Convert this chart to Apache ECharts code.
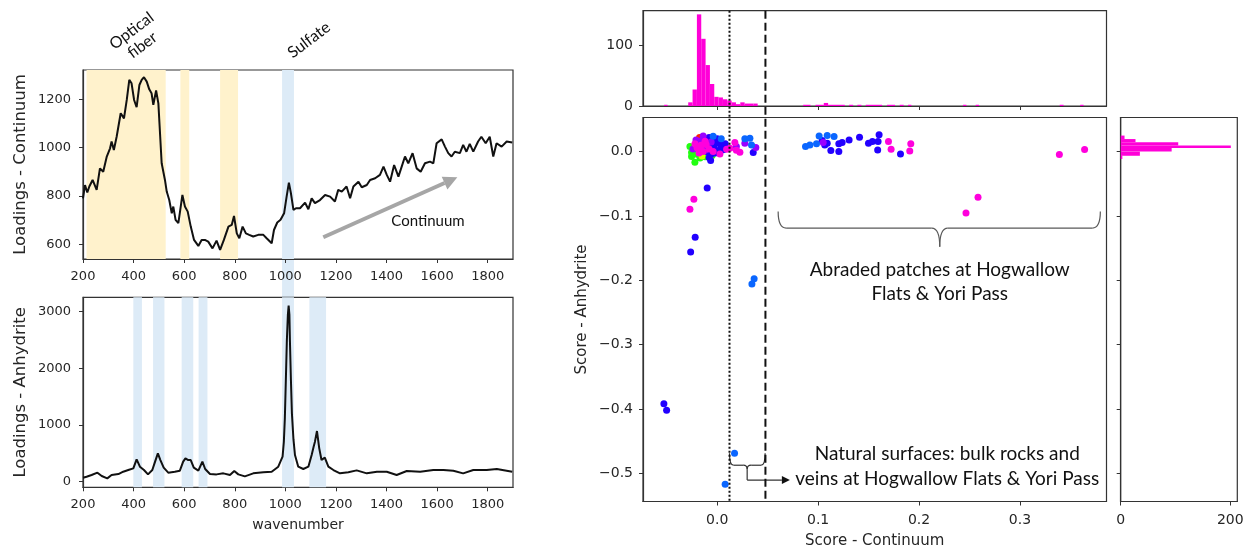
<!DOCTYPE html>
<html><head><meta charset="utf-8">
<script src="https://cdn.jsdelivr.net/npm/echarts@6/dist/echarts.min.js"></script>
<style>html,body{margin:0;padding:0;background:#fff}#c{width:1251px;height:548px}</style>
</head><body><div id="c"></div>
<script>
// ---------- DATA ----------
// Top-left: Loadings - Continuum
const wnC = [200,208,217,225,238,254,267,280,294,307,313,322,333,349,362,373,383,392,402,412,423,432,441,452,462,471,478,489,498,511,524,531,541,551,557,566,577,593,603,614,626,639,656,669,682,695,712,728,742,757,775,788,797,808,818,831,844,857,873,893,913,926,946,955,968,981,995,1005,1014,1022,1032,1042,1058,1078,1091,1104,1117,1137,1157,1177,1196,1209,1223,1242,1256,1269,1289,1302,1322,1335,1355,1374,1388,1401,1414,1430,1447,1460,1473,1486,1503,1519,1535,1552,1572,1585,1598,1618,1631,1644,1657,1670,1690,1703,1716,1729,1743,1762,1775,1792,1808,1822,1835,1855,1875,1897];
const loadC = [790,845,814,839,866,825,914,900,963,997,1025,990,1045,1142,1121,1197,1280,1266,1197,1167,1259,1280,1291,1273,1241,1225,1177,1236,1183,935,866,818,783,728,756,701,687,804,756,735,673,618,593,618,618,611,583,615,577,618,673,680,717,645,625,673,645,639,632,639,639,625,604,659,690,701,728,797,855,811,742,749,749,772,745,790,770,783,804,797,777,825,818,839,790,839,859,836,845,866,873,887,921,887,859,928,880,921,963,935,977,914,900,935,942,935,1018,1034,1004,977,963,983,977,1011,983,1015,983,1025,1045,1018,1045,963,1018,1004,1025,1021];
// Bottom-left: Loadings - Anhydrite
const wnA = [200,214,234,257,274,296,313,340,359,379,399,412,425,441,457,474,485,496,506,519,537,563,583,596,605,616,626,638,656,672,683,702,728,755,781,798,814,840,873,913,946,972,989,994,998,1002,1006,1010,1013,1016,1018,1022,1026,1032,1038,1051,1071,1091,1104,1112,1117,1125,1134,1143,1150,1156,1170,1190,1216,1249,1282,1322,1362,1401,1440,1480,1533,1585,1625,1664,1703,1743,1796,1836,1897];
const loadA = [70,88,118,159,100,59,118,135,176,206,235,394,265,206,129,206,353,500,382,247,159,176,194,353,412,382,382,247,194,353,224,135,129,147,118,188,129,94,147,165,176,265,441,700,1118,1800,2500,2950,3106,2950,2500,1800,1200,750,471,265,224,265,471,620,706,894,588,382,400,424,265,206,147,165,200,147,176,176,118,188,176,206,206,194,147,206,206,224,176];
// shaded bands (wavenumber ranges)
const bandsYellowTL = [[214,527],[585,620],[742,813]];
const bandsBlueTL = [[987,1034]];
const bandsBlueBL = [[399,433],[477,522],[590,636],[657,692],[987,1034],[1095,1161]];
const wnTicks = [200,400,600,800,1000,1200,1400,1600,1800];
const loadCTicks = [600,800,1000,1200];
const loadATicks = [0,1000,2000,3000];

// Scatter: Score - Continuum (x) vs Score - Anhydrite (y)
const ptsGreen = [[-0.0254,-0.0078],[-0.0221,-0.0165],[-0.0244,0.0062],[-0.027,0.0078],[-0.0254,-0.0016],[-0.02,-0.004],[-0.017,-0.01],[-0.012,-0.008],[-0.005,-0.006],[-0.022,0.002]];
const ptsYellow = [[-0.015,-0.007]];
const ptsRed = [[-0.0175,0.0218]];
const ptsBlue = [[0.104,0.0171],[0.1066,0.0104],[0.109,0.013],[0.1126,0.0016],[0.1205,0.012],[0.1205,0.0],[0.1238,0.014],[0.1307,0.018],[0.141,0.0224],[0.1499,0.013],[0.1538,0.0156],[0.1594,0.0156],[0.1604,0.026],[0.159,0.0026],[0.1816,-0.0036],[0.0357,-0.0016],[-0.0099,-0.0565],[-0.0218,-0.133],[-0.0263,-0.156],[-0.0528,-0.392],[-0.0501,-0.402],[-0.012,0.02],[-0.008,0.022],[-0.004,0.018],[-0.01,0.012],[-0.006,0.008],[-0.002,0.012],[0.002,0.015],[0.004,0.008],[-0.014,0.004],[-0.01,0.0],[-0.006,-0.004],[-0.0065,-0.014],[-0.002,-0.002],[0.002,0.002],[0.006,0.003],[-0.016,0.014],[0.0,0.02],[0.008,0.012],[-0.008,-0.009],[-0.003,0.005]];
const ptsViolet = [[-0.0139,0.0244],[-0.018,0.016],[-0.02,0.01],[-0.015,0.006],[-0.01,0.008],[-0.024,0.004],[0.0274,0.013],[0.019,0.0078],[0.0383,0.0062],[-0.006,0.015],[-0.012,0.002],[-0.021,0.018],[0.105,0.014]];
const ptsMagenta = [[-0.02,0.006],[-0.016,0.01],[-0.014,0.0],[-0.018,-0.002],[-0.008,0.004],[-0.004,0.0],[0.0027,-0.0036],[-0.012,0.016],[0.0093,0.0037],[0.0126,0.0053],[0.0175,0.014],[0.0225,-0.001],[0.019,0.002],[-0.022,0.012],[-0.0231,-0.074],[-0.027,-0.0896],[0.1697,0.0156],[0.1723,0.0037],[0.1908,0.0011],[0.1918,0.012],[0.2584,-0.0709],[0.2465,-0.0953],[0.339,-0.0047],[0.364,0.0031],[-0.017,0.004],[-0.011,0.011]];
const ptsLightBlue = [[0.0875,0.0078],[0.0918,0.0104],[0.0984,0.012],[0.101,0.0244],[0.109,0.0249],[0.1158,0.0233],[0.0274,0.0198],[0.0324,0.0208],[0.034,0.0104],[0.0366,-0.1975],[0.0344,-0.2058],[0.0172,-0.469],[0.0079,-0.517],[-0.004,0.024],[0.004,0.02]];
const scoreXTicks = [0,0.1,0.2,0.3];
const scoreYTicks = [0,-0.1,-0.2,-0.3,-0.4,-0.5];

// Histograms: [binStart, binEnd, count]
const histX = [[-0.0525,-0.0492,2],[-0.0287,-0.0244,6],[-0.0244,-0.0201,27],[-0.0201,-0.0158,150],[-0.0158,-0.0115,110],[-0.0115,-0.0072,67],[-0.0072,-0.0029,36],[-0.0029,0.0014,15],[0.0014,0.0057,14],[0.0057,0.0100,11],[0.0100,0.0143,9],[0.0143,0.0186,6],[0.0186,0.0229,3],[0.0229,0.0272,6],[0.0272,0.0315,4],[0.0315,0.0358,4],[0.0358,0.0401,4],[0.0852,0.0925,2],[0.0974,0.1056,2],[0.1056,0.1099,5],[0.1099,0.1264,2],[0.1307,0.1347,2],[0.1389,0.1429,2],[0.1472,0.1634,2],[0.1683,0.1762,2],[0.1808,0.1848,2],[0.1891,0.1924,2],[0.2436,0.2469,2],[0.2561,0.2594,2],[0.3393,0.3432,2],[0.3597,0.3630,2]];
const histY = [[0.0195,0.0249,7],[0.0146,0.0195,27],[0.0095,0.0146,105],[0.0055,0.0095,201],[0.0,0.0055,93],[-0.0065,0.0,35],[-0.0115,-0.0065,3]];
const histXTicks = [0,100];
const histYTicks = [0,200];
const refLines = [0.0122, 0.0478]; // dotted, dashed thresholds

// ---------- CHART ----------
const AX = {sx:[-0.0735,0.3857], sy:[-0.544,0.053]};
const chart = echarts.init(document.getElementById('c'));
const tickFont = 'DejaVu Sans';
const frameColor = '#333';
const plain = v => String(v);
function vAxis(o) {
  return Object.assign({
    type:'value', splitLine:{show:false},
    axisLine:{show:true, onZero:false, lineStyle:{color:frameColor, width:1.2}},
    axisTick:{show:true, length:4, lineStyle:{color:frameColor, width:1}, customValues:o.ticks},
    axisLabel:{show:o.labels!==false, customValues:o.ticks, fontSize:o.fs||13, fontFamily:tickFont, color:'#262626', margin:o.margin||7, formatter:o.fmt||plain},
    nameTextStyle:{fontFamily:tickFont, color:'#262626', fontSize:o.nfs||16.5},
    nameLocation:'middle'
  }, o.extra);
}
const fmt1 = v => (Math.abs(v)<1e-9 ? '0.0' : v.toFixed(1).replace('-', '\u2212'));
const gridStyle = {show:true, borderColor:frameColor, borderWidth:1.2, backgroundColor:'transparent', containLabel:false, outerBoundsMode:'none'};

function bandData(bands, color) {
  return bands.map(b => [{xAxis:b[0], itemStyle:{color:color}}, {xAxis:b[1]}]);
}
function scatterSeries(data, color) {
  return {type:'scatter', xAxisIndex:3, yAxisIndex:3, data:data, symbolSize:7, itemStyle:{color:color, opacity:1}, silent:true, animation:false};
}

chart.setOption({
  animation:false,
  grid:[
    Object.assign({left:83, top:70, width:430, height:189}, gridStyle),
    Object.assign({left:83, top:297.3, width:430, height:190}, gridStyle),
    Object.assign({left:643, top:10.7, width:463.5, height:95.3}, gridStyle),
    Object.assign({left:643, top:117.5, width:463.5, height:384}, gridStyle),
    Object.assign({left:1120.7, top:117.5, width:116.6, height:384}, gridStyle)
  ],
  xAxis:[
    vAxis({ticks:wnTicks, margin:11, extra:{gridIndex:0, min:200, max:1900}}),
    vAxis({ticks:wnTicks, margin:11, extra:{gridIndex:1, min:200, max:1900, name:'wavenumber', nameGap:31, nameTextStyle:{fontFamily:tickFont, color:'#262626', fontSize:14}}}),
    vAxis({ticks:scoreXTicks, labels:false, extra:{gridIndex:2, min:AX.sx[0], max:AX.sx[1]}}),
    vAxis({ticks:scoreXTicks, fs:14, margin:12, fmt:fmt1, extra:{gridIndex:3, min:AX.sx[0], max:AX.sx[1], name:'Score - Continuum', nameGap:32, nameTextStyle:{fontFamily:tickFont, color:'#262626', fontSize:15}}}),
    vAxis({ticks:histYTicks, fs:14, margin:12, extra:{gridIndex:4, min:0, max:212.8}})
  ],
  yAxis:[
    vAxis({ticks:loadCTicks, margin:12, extra:{gridIndex:0, min:539, max:1321, name:'Loadings - Continuum', nameGap:54}}),
    vAxis({ticks:loadATicks, margin:12, extra:{gridIndex:1, min:-99, max:3254, name:'Loadings - Anhydrite', nameGap:54}}),
    vAxis({ticks:histXTicks, fs:14, margin:10, extra:{gridIndex:2, min:0, max:156}}),
    vAxis({ticks:scoreYTicks, fs:14, margin:10, fmt:fmt1, extra:{gridIndex:3, min:AX.sy[0], max:AX.sy[1], name:'Score - Anhydrite', nameGap:53, nameTextStyle:{fontFamily:tickFont, color:'#262626', fontSize:15}}}),
    vAxis({ticks:scoreYTicks, labels:false, extra:{gridIndex:4, min:AX.sy[0], max:AX.sy[1]}})
  ],
  series:[
    {type:'line', xAxisIndex:0, yAxisIndex:0, data:wnC.map((w,i)=>[w, loadC[i]]), showSymbol:false, silent:true,
     lineStyle:{color:'#111', width:2}, z:3,
     markArea:{silent:true, data: bandData(bandsYellowTL,'#fff2cc').concat(bandData(bandsBlueTL,'#ddebf7'))}},
    {type:'line', xAxisIndex:1, yAxisIndex:1, data:wnA.map((w,i)=>[w, loadA[i]]), showSymbol:false, silent:true,
     lineStyle:{color:'#111', width:2}, z:3,
     markArea:{silent:true, data: bandData(bandsBlueBL,'#ddebf7')}},
    {type:'custom', xAxisIndex:2, yAxisIndex:2, data:histX, encode:{x:[0,1], y:2}, silent:true,
     renderItem:(params, api) => {
       const p0 = api.coord([api.value(0), 0]); const p1 = api.coord([api.value(1), api.value(2)]);
       return {type:'rect', shape:{x:p0[0], y:p1[1], width:p1[0]-p0[0], height:p0[1]-p1[1]}, style:{fill:'#ff00d8'}};
     }},
    {type:'custom', xAxisIndex:4, yAxisIndex:4, data:histY, encode:{x:2, y:[0,1]}, silent:true,
     renderItem:(params, api) => {
       const p0 = api.coord([0, api.value(0)]); const p1 = api.coord([api.value(2), api.value(1)]);
       return {type:'rect', shape:{x:p0[0], y:p1[1], width:p1[0]-p0[0], height:p0[1]-p1[1]}, style:{fill:'#ff00d8'}};
     }},
    scatterSeries(ptsGreen, '#22ff11'),
    scatterSeries(ptsYellow, '#d4ff00'),
    scatterSeries(ptsRed, '#ff2200'),
    scatterSeries(ptsBlue, '#2200ff'),
    scatterSeries(ptsViolet, '#9a00ff'),
    scatterSeries(ptsMagenta, '#ff00dd'),
    scatterSeries(ptsLightBlue, '#0a66ff')
  ]
});

// ---------- ANNOTATIONS ----------
function curve(a, b, c, stroke) { // quadratic: a -> b with control c
  return {type:'bezierCurve', z:20, shape:{x1:a[0], y1:a[1], x2:b[0], y2:b[1], cpx1:c[0], cpy1:c[1]}, style:{stroke:stroke, lineWidth:1.2, fill:null}};
}
function seg(a, b, stroke) {
  return {type:'line', z:20, shape:{x1:a[0], y1:a[1], x2:b[0], y2:b[1]}, style:{stroke:stroke, lineWidth:1.2}};
}
function annotate() {
  const P = (g, v) => chart.convertToPixel({gridIndex:g}, v);
  const els = [];
  // sulfate band continuing through the gap between the two left panels
  const gA = P(0, [987, 539]), gB = P(1, [1034, 3254]);
  els.push({type:'rect', z:-1, shape:{x:gA[0], y:gA[1], width:gB[0]-gA[0], height:gB[1]-gA[1]}, style:{fill:'#ddebf7'}});
  // threshold lines through histogram and scatter
  refLines.forEach((v, i) => {
    const t = P(2, [v, 156]), b = P(3, [v, AX.sy[0]]);
    els.push({type:'line', z:50, shape:{x1:t[0], y1:t[1], x2:t[0], y2:b[1]},
      style:{stroke:'#111', lineWidth:2, lineDash: i===0 ? [2,2] : [8,4]}});
  });
  // grey "Continuum" arrow
  const a1 = P(0, [1150, 629]), a2 = P(0, [1680, 877]);
  const dx = a2[0]-a1[0], dy = a2[1]-a1[1], L = Math.hypot(dx, dy), ux = dx/L, uy = dy/L;
  const bx = a2[0]-ux*14, by = a2[1]-uy*14;
  els.push({type:'line', z:20, shape:{x1:a1[0], y1:a1[1], x2:bx, y2:by}, style:{stroke:'#a6a6a6', lineWidth:4}});
  els.push({type:'polygon', z:20, shape:{points:[[a2[0],a2[1]],[bx-uy*7, by+ux*7],[bx+uy*7, by-ux*7]]}, style:{fill:'#a6a6a6'}});
  const ct = P(0, [1564, 694]);
  els.push({type:'text', z:20, x:ct[0], y:ct[1], style:{text:'Continuum', font:'15px Lato', fill:'#111', align:'center', verticalAlign:'middle'}});
  // rotated labels above top-left panel
  const rot = 37*Math.PI/180;
  els.push({type:'text', z:20, x:137, y:38, rotation:rot, style:{text:'Optical\nfiber', font:'16px Lato', fill:'#111', align:'center', verticalAlign:'middle', lineHeight:18}});
  els.push({type:'text', z:20, x:309, y:40, rotation:rot, style:{text:'Sulfate', font:'16px Lato', fill:'#111', align:'center', verticalAlign:'middle'}});
  // big brace
  const bl = P(3, [0.0604, -0.0933]), br = P(3, [0.3796, -0.0933]);
  const bm = P(3, [0.2205, -0.119]), bt = P(3, [0.2205, -0.148]);
  const r = 8, ym = bm[1], gc = '#595959';
  els.push(curve(bl, [bl[0]+r, ym], [bl[0], ym], gc));
  els.push(seg([bl[0]+r, ym], [bm[0]-r, ym], gc));
  els.push(curve([bm[0]-r, ym], [bm[0], bt[1]], [bm[0], ym], gc));
  els.push(curve([bm[0], bt[1]], [bm[0]+r, ym], [bm[0], ym], gc));
  els.push(seg([bm[0]+r, ym], [br[0]-r, ym], gc));
  els.push(curve([br[0]-r, ym], br, [br[0], ym], gc));
  const t1 = P(3, [0.2205, -0.2026]);
  els.push({type:'text', z:20, x:t1[0], y:t1[1], style:{text:'Abraded patches at Hogwallow\nFlats & Yori Pass', font:'19px Lato', fill:'#111', align:'center', verticalAlign:'middle', lineHeight:24}});
  // small brace + arrow
  const sl = P(3, [0.0122, -0.469]), sr = P(3, [0.0475, -0.469]);
  const sm = P(3, [0.0297, -0.4876]), ss = P(3, [0.0297, -0.5107]), se = P(3, [0.072, -0.5107]);
  const q = 4, sy = sm[1], sc = '#333';
  els.push(curve(sl, [sl[0]+q, sy], [sl[0], sy], sc));
  els.push(seg([sl[0]+q, sy], [sm[0]-q, sy], sc));
  els.push(curve([sm[0]-q, sy], [sm[0], sy+q], [sm[0], sy], sc));
  els.push(curve([sm[0], sy+q], [sm[0]+q, sy], [sm[0], sy], sc));
  els.push(seg([sm[0]+q, sy], [sr[0]-q, sy], sc));
  els.push(curve([sr[0]-q, sy], sr, [sr[0], sy], sc));
  els.push(seg([sm[0], sy+q], [sm[0], ss[1]], sc));
  els.push(seg([sm[0], ss[1]], [se[0]-8, ss[1]], sc));
  els.push({type:'polygon', z:20, shape:{points:[[se[0], se[1]],[se[0]-8, se[1]-4],[se[0]-8, se[1]+4]]}, style:{fill:'#111'}});
  const t2 = P(3, [0.2279, -0.4894]);
  els.push({type:'text', z:20, x:t2[0], y:t2[1], style:{text:'Natural surfaces: bulk rocks and\nveins at Hogwallow Flats & Yori Pass', font:'19px Lato', fill:'#111', align:'center', verticalAlign:'middle', lineHeight:25}});
  chart.setOption({graphic: els});
}
annotate();
</script></body></html>
